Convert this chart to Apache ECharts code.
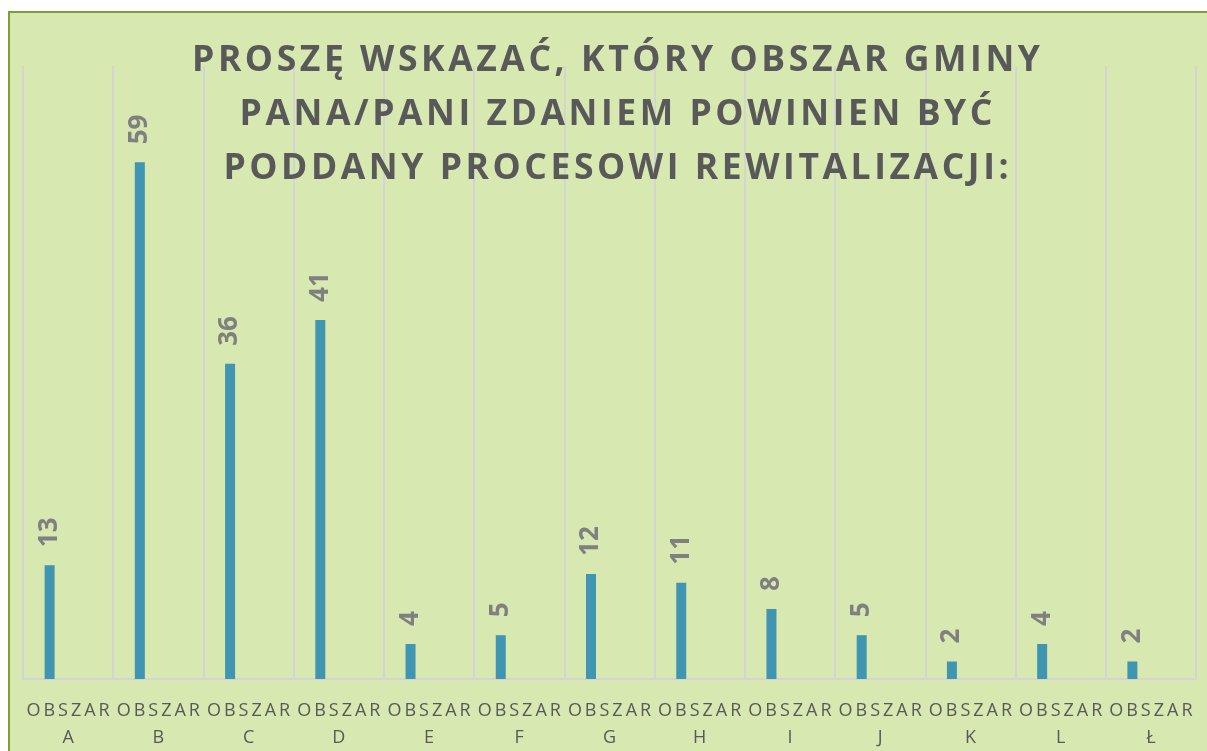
<!DOCTYPE html>
<html>
<head>
<meta charset="utf-8">
<script src="https://cdn.jsdelivr.net/npm/echarts@6/dist/echarts.min.js"></script>
<style>
  html, body { margin: 0; padding: 0; background: #ffffff; }
  #bg {
    position: absolute; left: 8px; top: 11px; width: 1220px; height: 760px;
    background: #d7e8b0; border-left: 2px solid #7aa232; border-top: 2px solid #7aa232;
  }
  #chart { position: absolute; left: 0; top: 0; width: 1207px; height: 751px; }
</style>
</head>
<body>
<div id="bg"></div>
<div id="chart"></div>
<script>
// dane z wykresu
var titleLines = ['PROSZĘ WSKAZAĆ, KTÓRY OBSZAR GMINY', 'PANA/PANI ZDANIEM POWINIEN BYĆ', 'PODDANY PROCESOWI REWITALIZACJI:'];
var obszary = ['OBSZAR A', 'OBSZAR B', 'OBSZAR C', 'OBSZAR D', 'OBSZAR E', 'OBSZAR F', 'OBSZAR G',
               'OBSZAR H', 'OBSZAR I', 'OBSZAR J', 'OBSZAR K', 'OBSZAR L', 'OBSZAR Ł'];
var odpowiedzi = [13, 59, 36, 41, 4, 5, 12, 11, 8, 5, 2, 4, 2];
var yMax = 70;

// rozstrzelony tekst (canvas nie ma letter-spacing)
function spaced(s, sep) {
  return s.split('').join(sep);
}

var myChart = echarts.init(document.getElementById('chart'), null, { renderer: 'canvas' });

var option = {
  backgroundColor: 'transparent',
  title: {
    text: titleLines.map(function (l) { return spaced(l, '\u200A'); }).join('\n'),
    left: 611,
    top: 29,
    textAlign: 'center',
    textStyle: {
      fontFamily: 'Open Sans',
      fontWeight: 'bold',
      fontSize: 35.5,
      lineHeight: 54,
      color: '#595959'
    }
  },
  grid: { left: 23, right: 11, top: 66, bottom: 71, containLabel: false },
  xAxis: {
    type: 'category',
    data: obszary,
    axisTick: { show: false },
    axisLine: { lineStyle: { color: '#d4d4d4', width: 2 } },
    splitLine: { show: true, lineStyle: { color: '#d4d4d4', width: 2 } },
    axisLabel: {
      interval: 0,
      margin: 18,
      fontFamily: 'Open Sans',
      fontSize: 18,
      lineHeight: 27,
      color: '#595959',
      formatter: function (v) {
        var parts = v.split(' ');
        return spaced(parts[0], '\u2009') + '\n' + parts[1];
      }
    }
  },
  yAxis: {
    type: 'value',
    min: 0,
    max: yMax,
    show: false,
    splitLine: { show: false }
  },
  series: [
    {
      type: 'bar',
      data: odpowiedzi,
      barWidth: 10,
      barGap: '270%',
      itemStyle: { color: '#4096b0' },
      label: {
        show: true,
        position: 'top',
        rotate: 90,
        align: 'left',
        verticalAlign: 'middle',
        distance: 18,
        fontFamily: 'Open Sans',
        fontWeight: 'bold',
        fontSize: 26,
        color: '#808080'
      }
    },
    {
      // pusta seria - przesuwa słupki w lewo jak w Excelu
      type: 'bar',
      data: obszary.map(function () { return '-'; }),
      barWidth: 10
    }
  ]
};

myChart.setOption(option);
</script>
</body>
</html>
